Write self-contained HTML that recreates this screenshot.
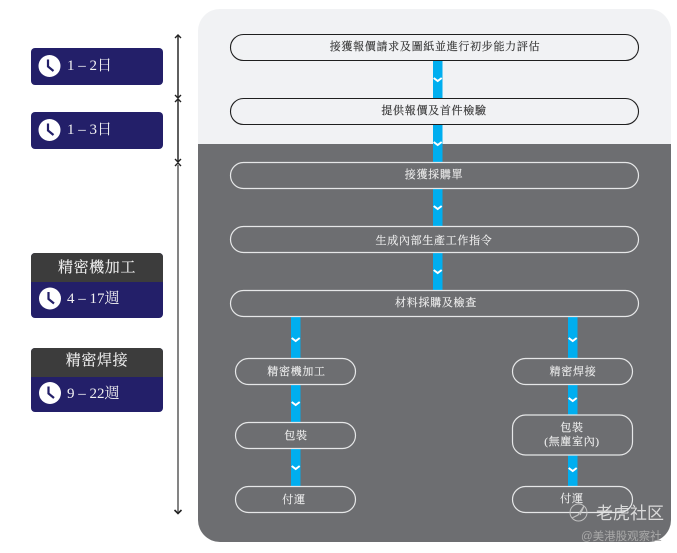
<!DOCTYPE html>
<html><head><meta charset="utf-8"><style>
html,body{margin:0;padding:0;background:#fff;width:677px;height:553px;overflow:hidden}
svg{display:block}
text{font-family:"Liberation Serif","Noto Serif CJK SC",serif}
.p{fill:none;stroke:#1f1f1f;stroke-width:1.1}
.w{fill:none;stroke:#e6e7e8;stroke-width:1.2}
.t{font-size:11px;text-anchor:middle;letter-spacing:.7px;fill:#eeeeee;stroke:#eeeeee;stroke-width:.15}
.d{font-size:11px;text-anchor:middle;letter-spacing:.7px;fill:#333;stroke:#333;stroke-width:.15}
.b{fill:#00aeef}
.c{fill:none;stroke:#fff;stroke-width:2}
.n{font-size:15px;fill:#f2f2f2;letter-spacing:0}
.h{font-size:15px;fill:#eee;text-anchor:middle;letter-spacing:.6px;stroke:#eee;stroke-width:.15}
</style></head><body>
<svg width="677" height="553" viewBox="0 0 677 553" xmlns="http://www.w3.org/2000/svg">
<defs><clipPath id="panel"><rect x="198" y="9" width="473" height="533" rx="22"/></clipPath></defs>
<g clip-path="url(#panel)"><rect x="198" y="9" width="473" height="135" fill="#f1f2f4"/><rect x="198" y="144" width="473" height="398" fill="#6d6e71"/></g>

<rect class="b" x="433" y="60" width="9.500" height="38"/>
<rect class="b" x="433" y="124" width="9.500" height="38"/>
<rect class="b" x="433" y="188" width="9.500" height="38"/>
<rect class="b" x="433" y="252" width="9.500" height="38"/>
<rect class="b" x="291" y="316" width="9.500" height="42"/>
<rect class="b" x="291" y="384" width="9.500" height="38"/>
<rect class="b" x="291" y="448" width="9.500" height="38"/>
<rect class="b" x="568" y="316" width="9.500" height="42"/>
<rect class="b" x="568" y="384" width="9.500" height="31"/>
<rect class="b" x="568" y="455" width="9.500" height="31"/>

<path class="c" d="M433.700 78l4 3 4-3M433.700 142l4 3 4-3M433.700 206l4 3 4-3M433.700 270l4 3 4-3M291.700 338l4 3 4-3M291.700 402l4 3 4-3M291.700 466l4 3 4-3M568.700 338l4 3 4-3M568.700 398l4 3 4-3M568.700 468l4 3 4-3"/>

<rect class="p" x="230.500" y="34.500" width="408" height="26" rx="13"/>
<rect class="p" x="230.500" y="98.500" width="408" height="26" rx="13"/>
<rect class="w" x="230.500" y="162.500" width="408" height="26" rx="13"/>
<rect class="w" x="230.500" y="226.500" width="408" height="26" rx="13"/>
<rect class="w" x="230.500" y="290.500" width="408" height="26" rx="13"/>
<rect class="w" x="235.500" y="358.500" width="120" height="26" rx="13"/>
<rect class="w" x="235.500" y="422.500" width="120" height="26" rx="13"/>
<rect class="w" x="235.500" y="486.500" width="120" height="26" rx="13"/>
<rect class="w" x="512.500" y="358.500" width="120" height="26" rx="13"/>
<rect class="w" x="512.500" y="415" width="120" height="40" rx="13"/>
<rect class="w" x="512.500" y="486.500" width="120" height="26" rx="13"/>

<text class="d" x="435" y="50">接獲報價請求及圖紙並進行初步能力評估</text>
<text class="d" x="434" y="114">提供報價及首件檢驗</text>
<text class="t" x="434" y="178">接獲採購單</text>
<text class="t" x="434" y="244">生成內部生產工作指令</text>
<text class="t" x="436" y="306">材料採購及檢查</text>
<text class="t" x="296.500" y="375">精密機加工</text>
<text class="t" x="296" y="439">包裝</text>
<text class="t" x="294" y="503">付運</text>
<text class="t" x="573" y="375">精密焊接</text>
<text class="t" x="572" y="431">包裝</text>
<text class="t" x="572" y="445">(無塵室內)</text>
<text class="t" x="572" y="502">付運</text>

<path d="M178 35V98M178 100V162" stroke="#2a2a2a" stroke-width="1.500" fill="none"/>
<path d="M178 165V513" stroke="#6f6f6f" stroke-width="1.700" fill="none"/>
<path d="M175 38l3-3 3 3M175 95l3 3 3-3M175 102l3-3 3 3M175 159l3 3 3-3M175 166l3-3 3 3" stroke="#222" stroke-width="1.400" fill="none"/>
<path d="M174.500 510l3.500 3.500 3.500-3.500" stroke="#222" stroke-width="1.600" fill="none"/>

<rect x="31" y="48" width="132" height="37" rx="4" fill="#231f69"/>
<rect x="31" y="112" width="132" height="37" rx="4" fill="#231f69"/>
<rect x="31" y="253" width="132" height="65" rx="4" fill="#231f69"/>
<path d="M31 282v-25a4 4 0 0 1 4-4h124a4 4 0 0 1 4 4v25z" fill="#3c3c3c"/>
<rect x="31" y="348" width="132" height="64" rx="4" fill="#231f69"/>
<path d="M31 377v-25a4 4 0 0 1 4-4h124a4 4 0 0 1 4 4v25z" fill="#3c3c3c"/>

<g id="clocks" fill="#fff">
<circle cx="49.500" cy="66" r="11"/><circle cx="49.500" cy="130" r="11"/><circle cx="50" cy="298.500" r="11"/><circle cx="50" cy="393" r="11"/>
</g>
<path d="M48 59.500V66.500L53.500 71M48 123.500V130.500L53.500 135M48.500 292V299L54 303.500M48.500 386.500V393.500L54 398" stroke="#231f69" stroke-width="2.200" fill="none"/>

<text class="n" x="67" y="70">1 – 2日</text>
<text class="n" x="67" y="134">1 – 3日</text>
<text class="h" x="97" y="272">精密機加工</text>
<text class="h" x="97" y="365">精密焊接</text>
<text class="n" x="67" y="303">4 – 17週</text>
<text class="n" x="67" y="398">9 – 22週</text>

<g opacity=".9">
<circle cx="578.500" cy="512.500" r="8.500" fill="none" stroke="#c9c9c9" stroke-width="1"/>
<path d="M572 518l6-3 6-9-4 9" fill="none" stroke="#c9c9c9" stroke-width="1.200"/>
<text x="596" y="519" style='font-family:"Liberation Sans","Noto Sans CJK SC",sans-serif;font-size:17px;fill:#e6e6e6'>老虎社区</text>
</g>
<text x="581" y="540" style='font-family:"Liberation Sans","Noto Sans CJK SC",sans-serif;font-size:11.500px;fill:#a9a9a9'>@美港股观察社</text>
</svg>
</body></html>
